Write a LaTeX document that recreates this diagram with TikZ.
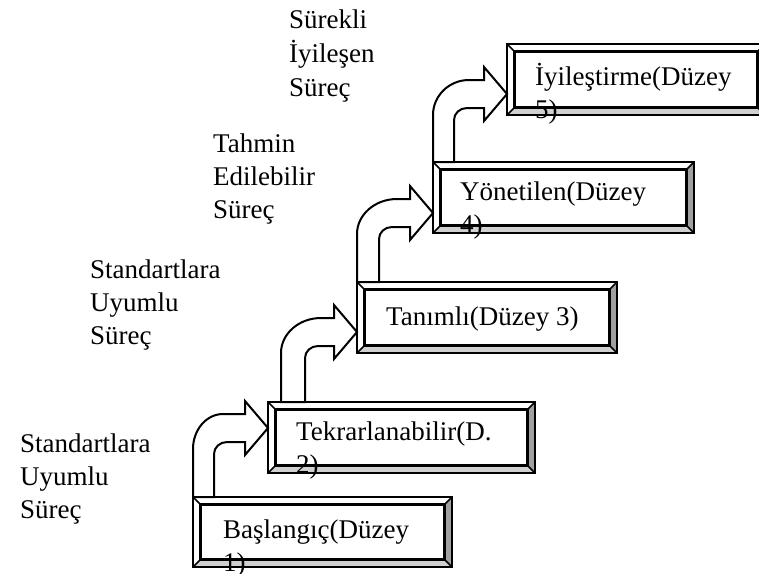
\documentclass[tikz,border=0pt]{standalone}
\usepackage{fontspec}
\setmainfont{Liberation Serif}
\usetikzlibrary{calc}
\definecolor{bevlight}{RGB}{208,208,208}
\definecolor{beveldark}{RGB}{160,160,160}

\tikzset{
  stage/.style={draw, fill=white, line width=2.6pt, inner sep=0pt, outer sep=0pt,
                anchor=north west, minimum height=71pt},
  lbl/.style={inner sep=0pt, anchor=base west, font=\fontsize{27}{33}\selectfont},
  steparrow/.style={draw, fill=white, line width=2pt, line join=miter},
  bevedge/.style={line width=1.6pt},
  bevrim/.style={line width=2.6pt},
}

% bevelled faces of a stage box: light bottom face, dark right face
\newcommand\bevelfaces[1]{%
  \coordinate (#1-a) at ($(#1.north west)+(7.5,7.5)$);
  \coordinate (#1-b) at ($(#1.north east)+(-7.5,7.5)$);
  \coordinate (#1-c) at ($(#1.south east)+(-7.5,-7.5)$);
  \coordinate (#1-d) at ($(#1.south west)+(7.5,-7.5)$);
  \fill[bevlight] (#1.south west) -- (#1.south east) -- (#1-c) -- (#1-d) -- cycle;
  \fill[beveldark] (#1.north east) -- (#1.south east) -- (#1-c) -- (#1-b) -- cycle;
  \draw[bevedge] (#1.north west) -- (#1-a) (#1.north east) -- (#1-b)
                 (#1.south east) -- (#1-c) (#1.south west) -- (#1-d);
  \draw[bevrim] (#1-a) rectangle (#1-c);
  \draw[bevrim] (#1.north west) rectangle (#1.south east);
}

% bent arrow rising from the top of box #1 into the left side of box #3
% #2 shift of the shaft along the top, #4 tip drop below the top of #3,
% #5 shaft width, #6 outer bend radius
\newcommand\bendup[6]{%
  \coordinate (#1-foot) at ($(#1.north west)+(#2,0)$);
  \coordinate (#3-tip) at ($(#3.north west)+(0,#4)$);
  \coordinate (#3-knee) at (#1-foot |- #3-tip);
  \draw[steparrow] (#1-foot)
    -- ($(#3-knee)+(0,21)$)
    .. controls ($(#3-knee)+(0,1.7)$) and ($(#3-knee)+(0.448*#6,-14)$) .. ($(#3-knee)+(#6,-14)$)
    -- ($(#3-tip)+(-23,-14)$) -- ($(#3-tip)+(-23,-27)$) -- (#3-tip)
    -- ($(#3-tip)+(-23,27)$) -- ($(#3-tip)+(-23,14)$)
    -- ($(#3-knee)+(#5+13,14)$)
    .. controls ($(#3-knee)+(#5+5.8,14)$) and ($(#3-knee)+(#5,19.4)$) .. ($(#3-knee)+(#5,26)$)
    -- ($(#1-foot)+(#5,0)$) -- cycle;
}

\begin{document}
\begin{tikzpicture}[x=1pt,y=-1pt]
  \useasboundingbox (0,0) rectangle (759,573);
  \clip (0,0) rectangle (759,573);

  % stage boxes
  \node[stage, minimum width=259pt, minimum height=70pt] (b1) at (193,497) {};
  \node[stage, minimum width=267pt] (b2) at (268,402) {};
  \node[stage, minimum width=260pt] (b3) at (357,282) {};
  \node[stage, minimum width=261pt] (b4) at (433,162) {};
  \node[stage, minimum width=258pt] (b5) at (507,44) {};
  \bevelfaces{b1}
  \bevelfaces{b2}
  \bevelfaces{b3}
  \bevelfaces{b4}
  \bevelfaces{b5}

  % steps between the stages
  \bendup{b1}{0}{b2}{26}{21}{30}
  \bendup{b2}{13}{b3}{50}{24}{40}
  \bendup{b3}{0}{b4}{51}{22}{40}
  \bendup{b4}{0}{b5}{50}{21}{36}

  % stage names
  \node[lbl] (t1) at ($(b1.north west)+(30,41)$) {Başlangıç(Düzey};
  \node[lbl] (t1b) at ($(t1.base west)+(0,33)$) {1)};
  \node[lbl] (t2) at ($(b2.north west)+(28,38)$) {Tekrarlanabilir(D.};
  \node[lbl] (t2b) at ($(t2.base west)+(0,33)$) {2)};
  \node[lbl] (t3) at ($(b3.north west)+(29,43)$) {Tanımlı(Düzey 3)};
  \node[lbl] (t4) at ($(b4.north west)+(27,38)$) {Yönetilen(Düzey};
  \node[lbl] (t4b) at ($(t4.base west)+(0,33)$) {4)};
  \node[lbl] (t5) at ($(b5.north west)+(28,41)$) {İyileştirme(Düzey};
  \node[lbl] (t5b) at ($(t5.base west)+(0,33)$) {5)};

  % process descriptions
  \node[lbl] (p1a) at (20,452) {Standartlara};
  \node[lbl] (p1b) at ($(p1a.base west)+(0,33)$) {Uyumlu};
  \node[lbl] (p1c) at ($(p1b.base west)+(0,33)$) {Süreç};
  \node[lbl] (p2a) at (90,278) {Standartlara};
  \node[lbl] (p2b) at ($(p2a.base west)+(0,33)$) {Uyumlu};
  \node[lbl] (p2c) at ($(p2b.base west)+(0,33)$) {Süreç};
  \node[lbl] (p3a) at (213,152) {Tahmin};
  \node[lbl] (p3b) at ($(p3a.base west)+(0,33)$) {Edilebilir};
  \node[lbl] (p3c) at ($(p3b.base west)+(0,33)$) {Süreç};
  \node[lbl] (p4a) at (289,28) {Sürekli};
  \node[lbl] (p4b) at ($(p4a.base west)+(0,34)$) {İyileşen};
  \node[lbl] (p4c) at ($(p4b.base west)+(0,34)$) {Süreç};
\end{tikzpicture}
\end{document}
